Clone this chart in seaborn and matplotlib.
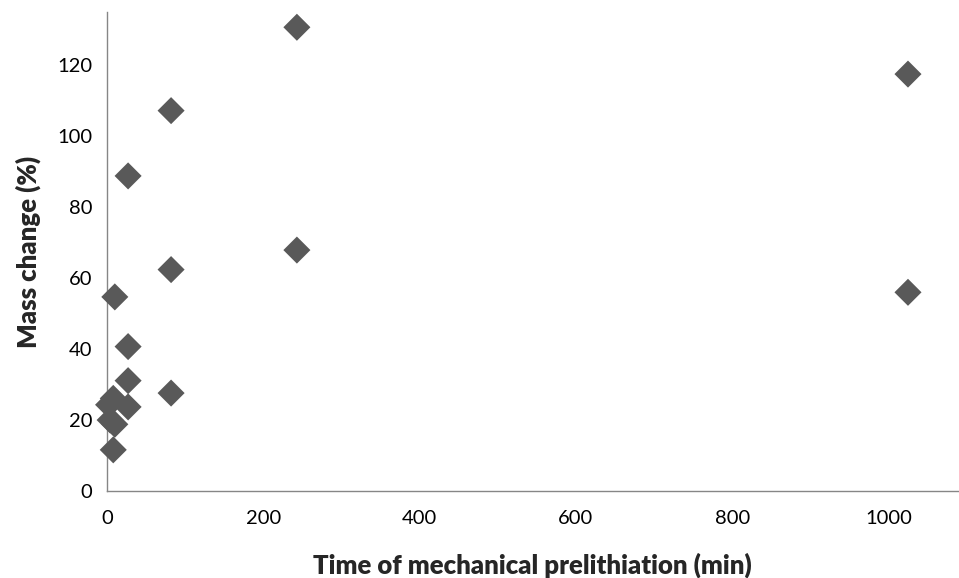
import matplotlib
matplotlib.use("Agg")
import matplotlib.pyplot as plt
import seaborn as sns
import pandas as pd

time_min = [243, 1025, 82, 27, 82, 243, 10, 1025, 27, 27, 82, 8, 2, 27, 4, 10, 8]
mass_change = [130.7, 117.5, 107.2, 88.8, 62.4, 67.9, 54.7, 56.0, 40.7, 31.1, 27.6, 26.1, 24.3, 23.7, 20.0, 18.8, 11.6]

x_ticks = [0, 200, 400, 600, 800, 1000]
y_ticks = [0, 20, 40, 60, 80, 100, 120]

df = pd.DataFrame({"time": time_min, "mass": mass_change})

sns.set_style("white")
plt.rcParams["font.family"] = ["Lato", "DejaVu Sans"]

fig = plt.figure(figsize=(9.59, 5.78), dpi=100)
ax = fig.add_axes([107/959, (578-491)/578, (958-107)/959, (491-12)/578])

sns.scatterplot(data=df, x="time", y="mass", marker="D", s=190, color="#595959",
                edgecolor="none", linewidth=0, ax=ax, zorder=3, clip_on=False)

ax.set_xlim(0, 1089)
ax.set_ylim(0, 135)
ax.set_xticks(x_ticks)
ax.set_yticks(y_ticks)
ax.tick_params(axis="both", labelsize=14.5, colors="#868686", labelcolor="black",
               length=7, width=1, direction="out")
ax.tick_params(axis="x", pad=7)
for s in ["top", "right"]:
    ax.spines[s].set_visible(False)
for s in ["left", "bottom"]:
    ax.spines[s].set_color("#868686")
    ax.spines[s].set_linewidth(1)
ax.set_xlabel("Time of mechanical prelithiation (min)", fontsize=18.5, fontweight="heavy", labelpad=18)
ax.set_ylabel("Mass change (%)", fontsize=18.5, fontweight="heavy", labelpad=12)

fig.savefig("out.png", dpi=100)
